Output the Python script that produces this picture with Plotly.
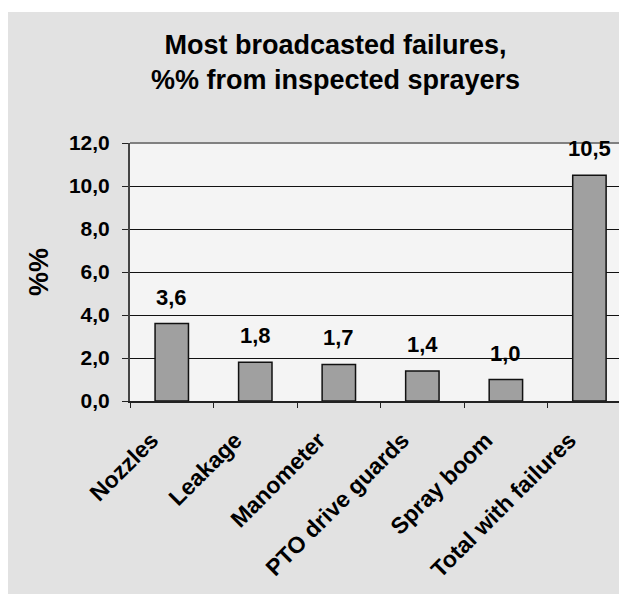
import plotly.graph_objects as go

# data
categories = ['Nozzles', 'Leakage', 'Manometer', 'PTO drive guards', 'Spray boom', 'Total with failures']
failure_pct = [3.6, 1.8, 1.7, 1.4, 1.0, 10.5]
y_ticks = [0, 2, 4, 6, 8, 10, 12]

FONT = 'Liberation Sans, Arial, sans-serif'
OFF = 8  # the html body adds an 8px margin, so work in page pixels minus that
W, H = 627 - OFF, 594 - OFF
L, R, T, B = 130 - OFF, 0, 143 - OFF, 594 - 401  # plot area on the page: 130..627 x 143..401

fig = go.Figure()
fig.add_trace(go.Bar(
    x=categories,
    y=failure_pct,
    width=0.4,
    marker=dict(color='#a0a0a0', line=dict(color='#111111', width=1.5)),
    hoverinfo='x+y',
))

# value labels above bars
for cat, val in zip(categories, failure_pct):
    fig.add_annotation(
        x=cat, y=val, text=f'{val:.1f}'.replace('.', ','),
        xref='x', yref='y', yanchor='bottom', yshift=12, showarrow=False,
        font=dict(family=FONT, size=22, color='black', weight='bold'),
    )

pw = W - L - R
ph = H - T - B


def px_x(p):
    # page pixel -> paper coordinate
    return (p - OFF - L) / pw


def px_y(p):
    return (H - B - (p - OFF)) / ph


# title and y-axis label
fig.add_annotation(
    x=px_x(335), y=px_y(62), xref='paper', yref='paper', showarrow=False,
    text='Most broadcasted failures,<br>%% from inspected sprayers',
    font=dict(family=FONT, size=27, color='black', weight='bold'),
    xanchor='center', yanchor='middle',
)
fig.add_annotation(
    x=px_x(39), y=px_y(272), xref='paper', yref='paper', showarrow=False,
    text='%%', textangle=-90, xanchor='center', yanchor='middle',
    font=dict(family=FONT, size=27, color='black', weight='bold'),
)

# page background and plot area
fig.add_shape(type='rect', xref='paper', yref='paper', layer='below',
              x0=px_x(8), x1=px_x(640), y0=px_y(600), y1=px_y(12),
              fillcolor='#e2e2e2', line=dict(width=0))
fig.add_shape(type='rect', xref='paper', yref='paper', layer='below',
              x0=0, x1=1, y0=0, y1=1, fillcolor='#f4f4f4', line=dict(width=0))
# grey top border of plot area
fig.add_shape(type='line', xref='paper', yref='paper', layer='above',
              x0=0, x1=1, y0=1, y1=1, line=dict(color='#808080', width=2))

fig.update_layout(
    width=W, height=H,
    margin=dict(l=L, r=R, t=T, b=B),
    paper_bgcolor='white',
    plot_bgcolor='rgba(0,0,0,0)',
    separators=', ',
    showlegend=False,
    font=dict(family=FONT, color='black'),
)
fig.update_xaxes(
    range=[-0.5, 5.45],
    showgrid=False,
    showline=True, linecolor='#222222', linewidth=1.5,
    ticks='outside', tickson='boundaries', ticklen=5, tickcolor='#222222',
    tickangle=-45,
    ticklabelstandoff=15, ticklabelshift=-20,
    tickfont=dict(family=FONT, size=23, color='black', weight='bold'),
)
fig.update_yaxes(
    range=[0, 12],
    tickvals=y_ticks, tickformat='.1f',
    showgrid=True, gridcolor='#111111', gridwidth=1,
    zeroline=False,
    showline=True, linecolor='#444444', linewidth=2,
    ticks='outside', ticklen=6, tickcolor='#222222',
    ticklabelstandoff=8,
    tickfont=dict(family=FONT, size=21, color='black', weight='bold'),
)

fig.write_html('out.html')
